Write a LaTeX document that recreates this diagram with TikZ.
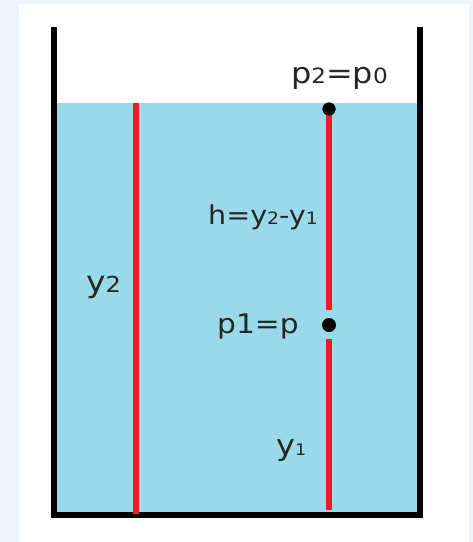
\documentclass[tikz,border=0pt]{standalone}
\usepackage{fontspec}
\setmainfont{DejaVu Sans}[FakeStretch=1.1]
\usepackage{tikz}
\definecolor{panelgrey}{HTML}{EFF3FB}
\definecolor{waterblue}{HTML}{99D9EA}
\definecolor{rodred}{HTML}{ED1C24}
\newcommand{\fsz}[1]{\fontsize{#1}{#1}\selectfont}
\newcommand{\lowdig}[2]{{\fsz{#1}#2}}

\begin{document}
\begin{tikzpicture}[x=1pt, y=-1pt,
    wall/.style={draw=black, line width=6pt, line join=miter},
    rod/.style={draw=rodred, line width=5.5pt},
    dot/.style={circle, fill=black, inner sep=0pt, minimum size=#1},
    lbl/.style={inner sep=0pt, anchor=base west, text=black!85}]
  \useasboundingbox (0,0) rectangle (473,542);
  \fill[panelgrey] (0,0) rectangle (473,542);
  \fill[white] (19,4) rectangle (469,542);
  \fill[waterblue] (57,103) rectangle (417,512);
  \draw[wall] (54,27) -- (54,515) -- (420,515) -- (420,27);

  \coordinate (lefttop) at (136,103);
  \coordinate (leftbot) at (136,514);
  \coordinate (rightbot) at (329,510);
  \node[dot=13pt] (topdot) at (329,109) {};
  \node[dot=14pt] (middot) at (329,325) {};

  \draw[rod] (lefttop) -- (leftbot);
  \draw[rod, shorten >=8pt] (topdot.center) -- (middot);
  \draw[rod, shorten <=7pt] (middot) -- (rightbot);
  \node[dot=13pt] at (topdot) {};

  \node[lbl] (ptop) at (291,83) {\fsz{29}p\lowdig{21}{2}=p\lowdig{21}{0}};
  \node[lbl] (hdiff) at (208,224) {\fsz{26}h=y\lowdig{17}{2}-y\lowdig{17}{1}};
  \node[lbl] (pmid) at (217,333) {\fsz{27}p1=p};
  \node[lbl] (ytwo) at (86,292) {\fsz{30}y\lowdig{22}{2}};
  \node[lbl] (yone) at (276,455) {\fsz{29}y\lowdig{16}{1}};
\end{tikzpicture}
\end{document}
